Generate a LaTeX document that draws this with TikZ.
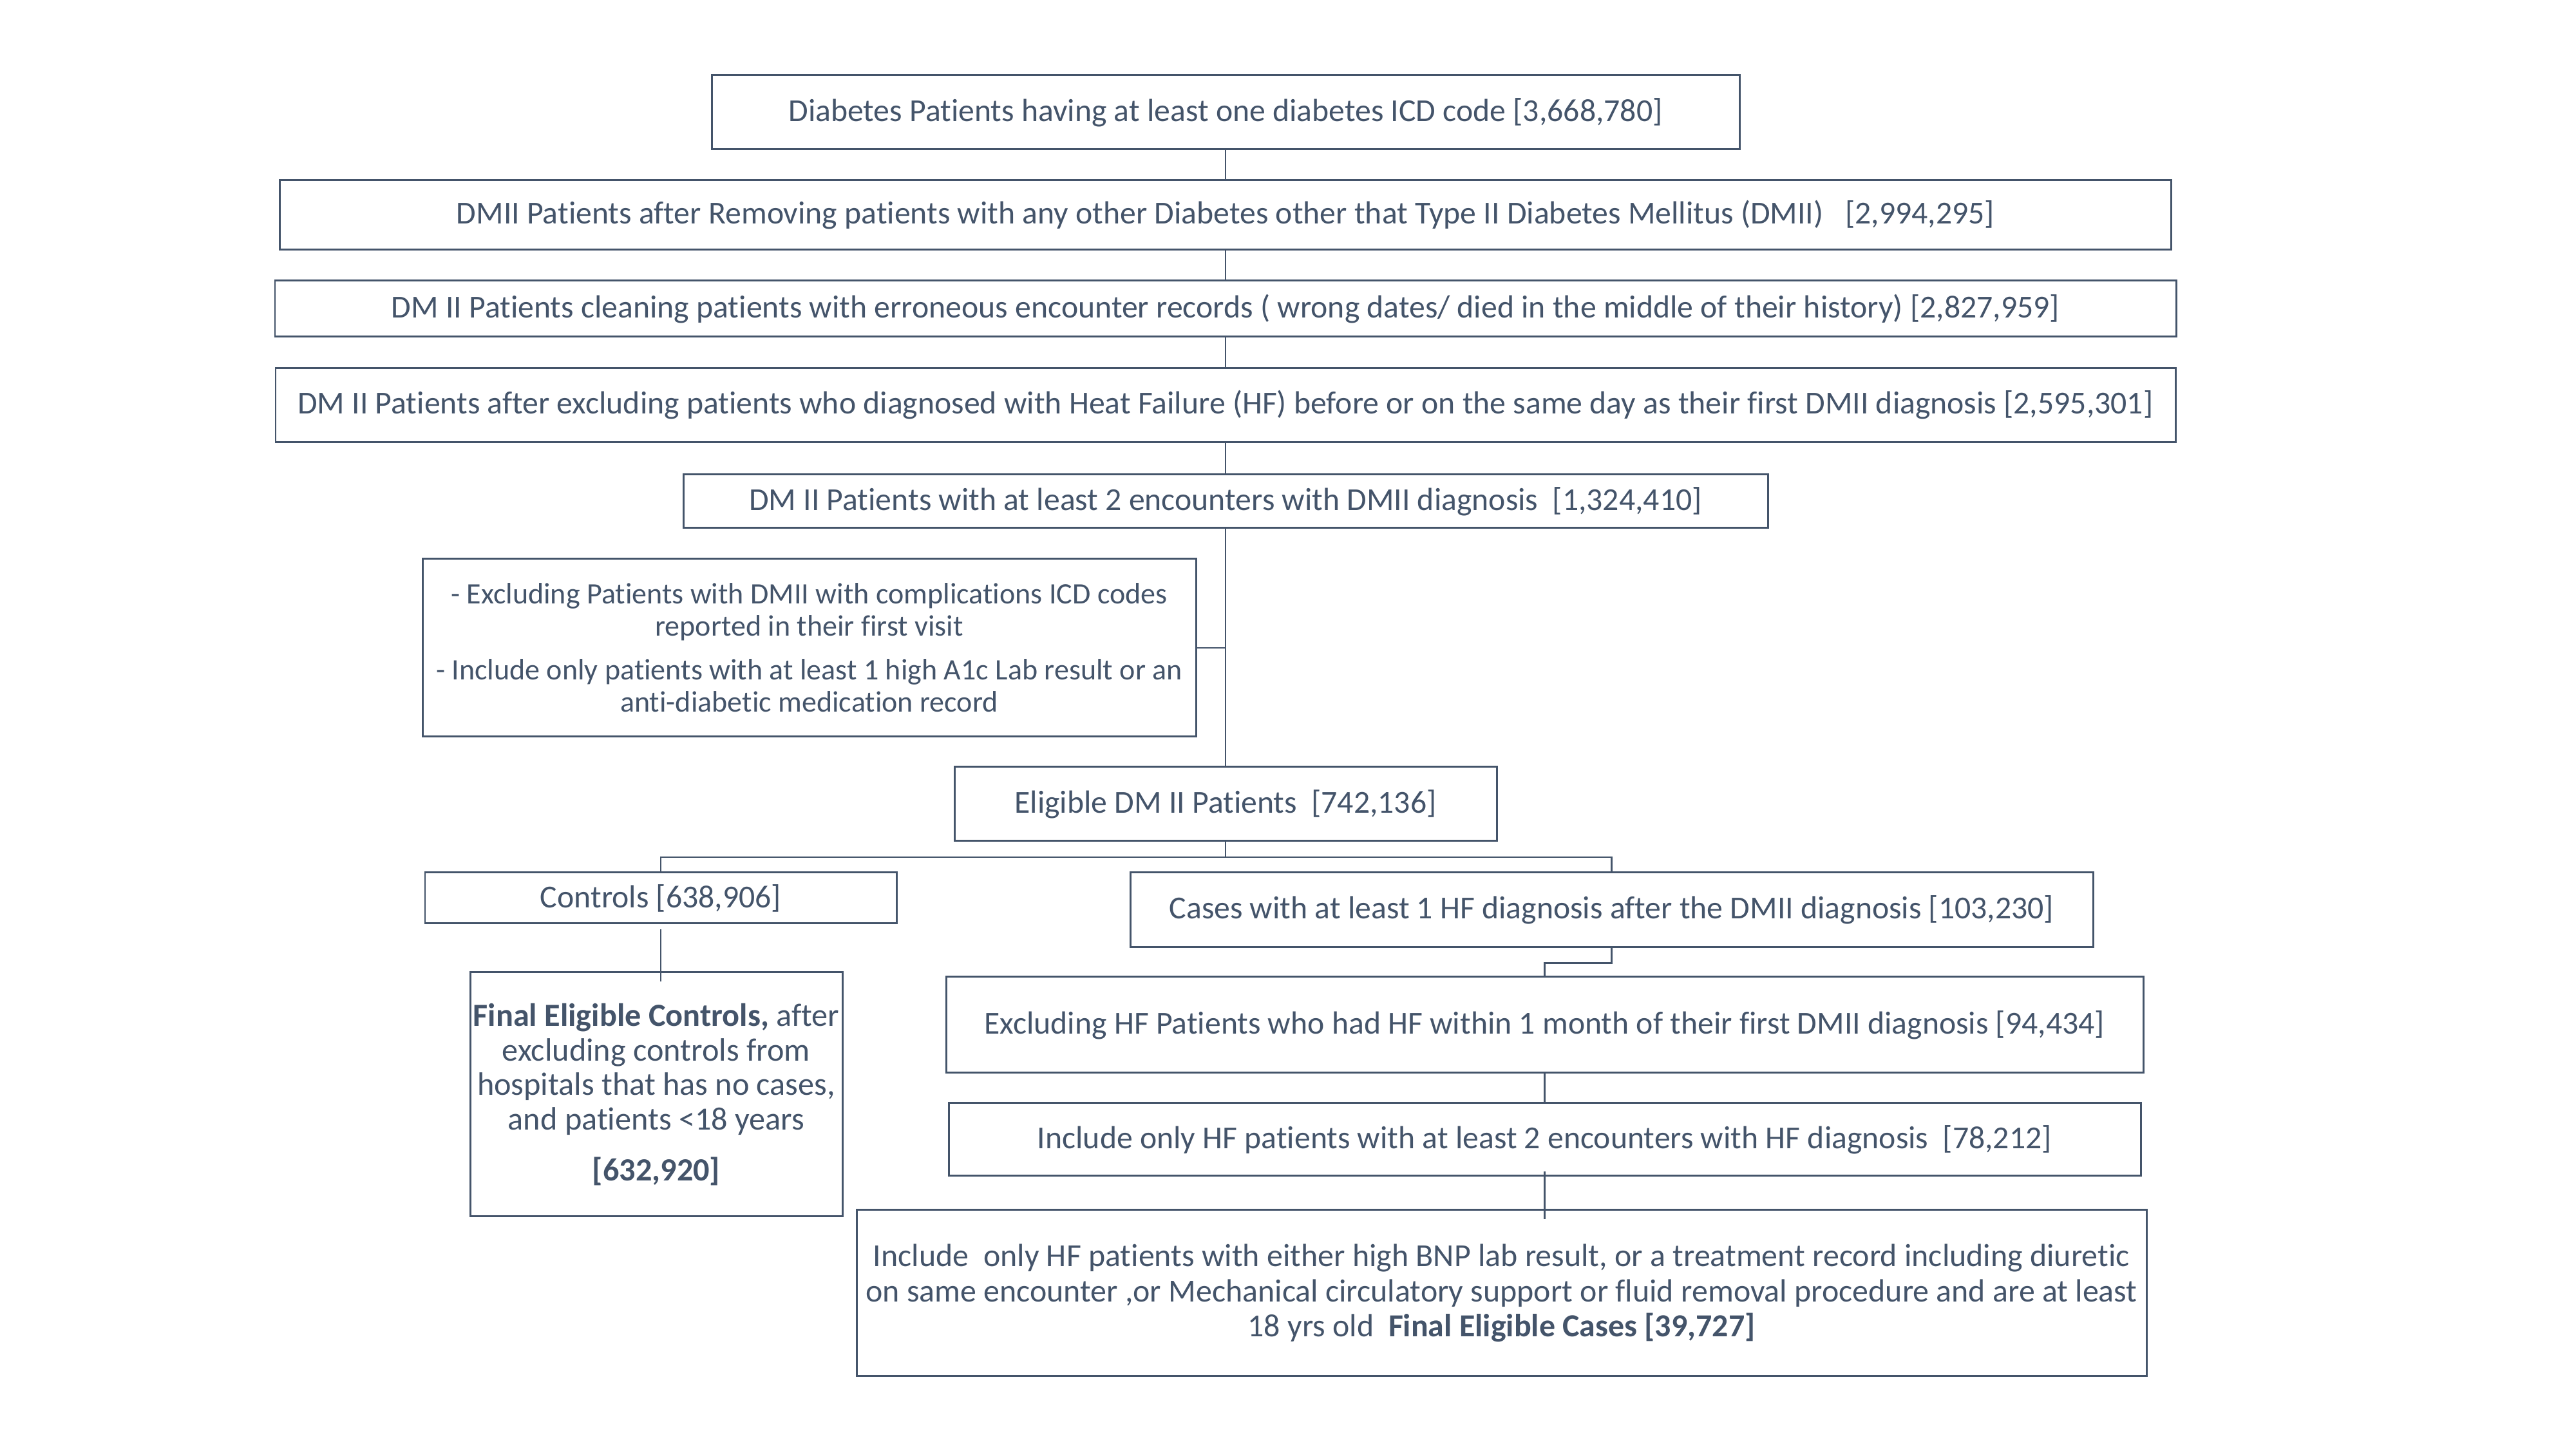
\documentclass[tikz,border=0pt]{standalone}
\usepackage{fontspec}
\setmainfont[Ligatures=NoCommon]{Carlito}
\definecolor{slate}{HTML}{44546A}
\begin{document}
\begin{tikzpicture}[
  box/.style={draw=slate, line width=0.85pt, text=slate, align=center, inner sep=0pt,
    font=\fontsize{14.15}{16.5}\selectfont},
  link/.style={draw=slate, line width=0.7pt}]
\fill[white] (0,0) rectangle (40,22.5);
\useasboundingbox (0,0) rectangle (40,22.5);
% Cohort
\node[box, minimum width=15.96cm, minimum height=1.15cm] (diab) at (19.03,20.755) {Diabetes Patients having at least one diabetes ICD code [3,668,780]};
\node[box, minimum width=29.37cm, minimum height=1.08cm] (dmii) at (19.03,19.16) {DMII Patients after Removing patients with any other Diabetes other that Type II Diabetes Mellitus (DMII)~~ [2,994,295]};
\node[box, minimum width=29.52cm, minimum height=0.87cm] (clean) at (19.03,17.705) {DM II Patients cleaning patients with erroneous encounter records ( wrong dates/ died in the middle of their history) [2,827,959]};
\node[box, minimum width=29.5cm, minimum height=1.155cm] (nohf) at (19.03,16.21) {DM II Patients after excluding patients who diagnosed with Heat Failure (HF) before or on the same day as their first DMII diagnosis [2,595,301]};
\node[box, minimum width=16.84cm, minimum height=0.83cm] (twoenc) at (19.03,14.715) {DM II Patients with at least 2 encounters with DMII diagnosis~ [1,324,410]};
% Exclusion side box
\node[box, minimum width=12.01cm, minimum height=2.76cm, font=\fontsize{13.1}{14.2}\selectfont] (side) at (12.565,12.44) {- Excluding Patients with DMII with complications ICD codes\\ reported in their first visit\\[0.18cm] - Include only patients with at least 1 high A1c Lab result or an\\ anti-diabetic medication record};
\node[box, minimum width=8.42cm, minimum height=1.15cm] (elig) at (19.03,10.015) {Eligible DM II Patients~ [742,136]};
% Controls
\node[box, minimum width=5.78cm, minimum height=3.79cm, font=\fontsize{14.3}{15.3}\selectfont] (fctrl) at (10.19,5.505) {\textbf{Final Eligible Controls,} after\\ excluding controls from\\ hospitals that has no cases,\\ and patients <18 years\\[0.25cm] \textbf{[632,920]}};
\node[box, minimum width=7.32cm, minimum height=0.79cm] (ctrl) at (10.26,8.555) {Controls [638,906]};
% Cases
\node[box, minimum width=14.95cm, minimum height=1.16cm] (cases) at (25.025,8.37) {Cases with at least 1 HF diagnosis after the DMII diagnosis [103,230]};
\node[box, minimum width=18.59cm, minimum height=1.49cm] (month) at (23.985,6.585) {Excluding HF Patients who had HF within 1 month of their first DMII diagnosis [94,434]};
\node[box, minimum width=18.51cm, minimum height=1.13cm] (hfenc) at (23.985,4.805) {Include only HF patients with at least 2 encounters with HF diagnosis~ [78,212]};
\node[box, minimum width=20.03cm, minimum height=2.58cm, font=\fontsize{14.2}{15.4}\selectfont] (fcases) at (23.315,2.42) {Include~ only HF patients with either high BNP lab result, or a treatment record including diuretic\\ on same encounter ,or Mechanical circulatory support or fluid removal procedure and are at least\\ 18 yrs old~ \textbf{Final Eligible Cases [39,727]}};
% Lines
\draw[link] (diab) -- (dmii);
\draw[link] (dmii) -- (clean);
\draw[link] (clean) -- (nohf);
\draw[link] (nohf) -- (twoenc);
\draw[link] (twoenc) -- (elig);
\draw[link] (side.east) -- (side.east -| twoenc.south);
\coordinate (split) at (19.03,9.19);
\draw[link] (elig.south) -- (split);
\draw[link] (ctrl.north) |- (split) -| (cases.north);
\coordinate (ctrlfoot) at ([yshift=-0.16cm]fctrl.north -| ctrl.south);
\draw[link] ([yshift=-0.08cm]ctrl.south) -- (ctrlfoot);
\draw[link] (cases.south) -- ++(0,-0.23) -| (month.north);
\draw[link] (month) -- (hfenc);
\coordinate (casefoot) at ([yshift=-0.16cm]fcases.north -| hfenc.south);
\draw[link] ([yshift=0.08cm]hfenc.south) -- (casefoot);
\end{tikzpicture}
\end{document}
